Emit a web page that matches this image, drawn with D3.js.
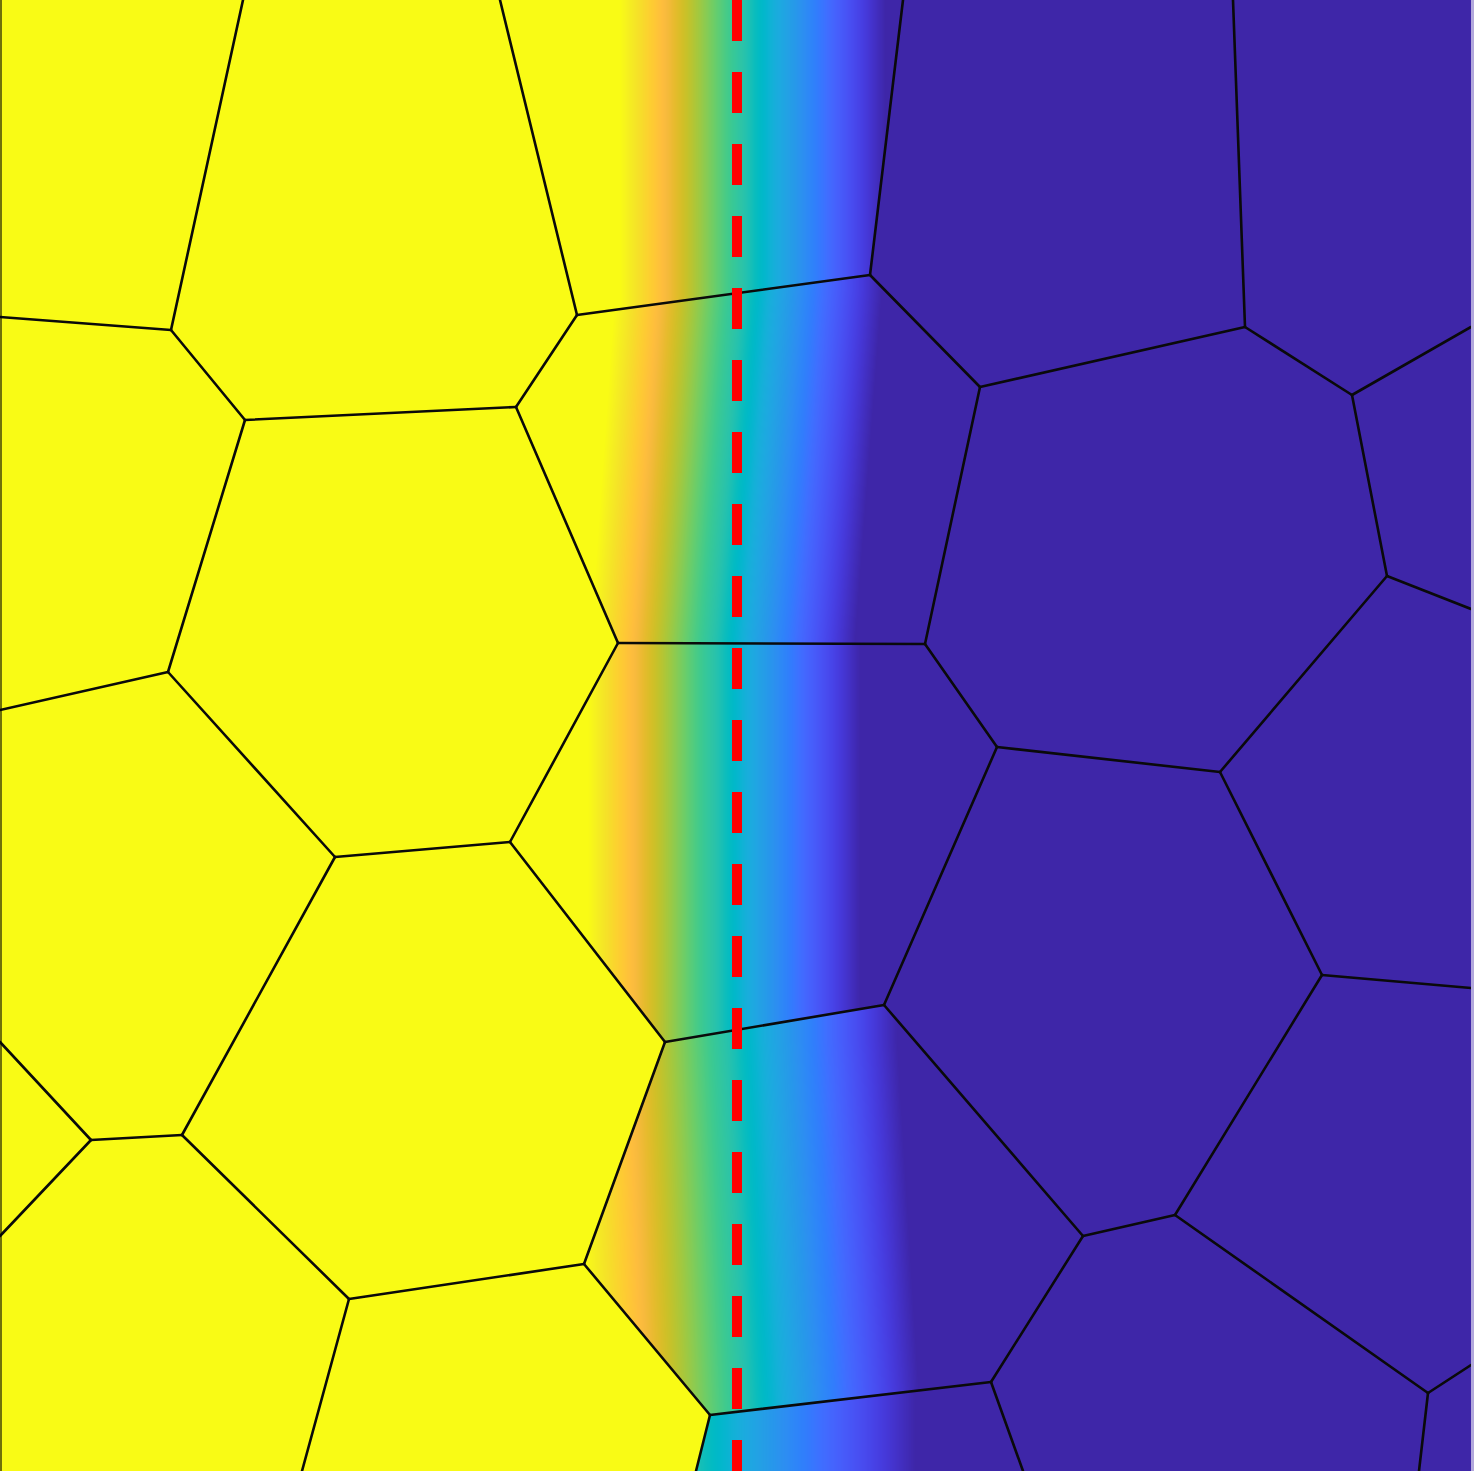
<!DOCTYPE html>
<html><head><meta charset="utf-8">
<script src="https://cdn.jsdelivr.net/npm/d3@7"></script>
<style>
html,body{margin:0;padding:0;background:#fff;}
#wrap{position:relative;width:1474px;height:1480px;overflow:hidden;}
#wrap canvas,#wrap svg{position:absolute;left:0;top:0;}
</style>
</head><body><div id="wrap"></div>
<script>
// ---------- data (domain units, y downward) ----------
const domainX = [0, 1471];
const domainY = [0, 1471];

// mesh vertices [x, y]
const nodes = [
  [243,0],[500,0],[903,0],[1233,0],          // 0-3 top
  [0,317],[171,330],[245,420],[516,407],     // 4-7
  [577,315],[870,275],[980,387],[1245,327],  // 8-11
  [1352,395],[1471,327],[1387,576],[1471,609],// 12-15
  [618,643],[925,644],[168,672],[0,710],     // 16-19
  [335,857],[510,842],[997,747],[1220,772],  // 20-23
  [884,1005],[665,1042],[1322,975],[1471,988],// 24-27
  [0,1042],[91,1140],[182,1135],[0,1236],    // 28-31
  [349,1299],[584,1264],[710,1415],[991,1382],// 32-35
  [1083,1236],[1175,1215],[1428,1393],[1471,1365],// 36-39
  [302,1471],[696,1471],[1023,1471],[1419,1471]   // 40-43
];

// mesh edges (pairs of vertex indices)
const edges = [
  [0,5],[1,8],[2,9],[3,11],[4,5],[5,6],[6,7],[7,8],[8,9],[9,10],[10,11],
  [11,12],[12,13],[12,14],[14,15],[14,23],[10,17],[17,16],[16,7],[6,18],
  [18,19],[18,20],[16,21],[21,20],[17,22],[22,23],[22,24],[23,26],[26,27],
  [26,37],[24,25],[21,25],[20,30],[28,29],[29,30],[29,31],[30,32],[32,33],
  [33,25],[33,34],[34,41],[34,35],[24,36],[36,37],[36,35],[35,42],[37,38],
  [38,39],[38,43],[32,40]
];

// cells crossed by the transition band: vertex ids + field ramp
// (x where field = 1 and x where field = 0, at a top y and a bottom y)
const bandCellVerts = [
  [1,8,9,2],
  [8,7,16,17,10,9],
  [16,21,25,24,22,17],
  [25,33,34,35,36,24],
  [34,41,42,35]
];
const rampTopY    = [0,   290, 643, 1040, 1415];
const rampTopOne  = [620, 615, 588, 577,  490];
const rampTopZero = [885, 882, 860, 897,  915];
const rampBotY    = [315, 643, 1040, 1415, 1471];
const rampBotOne  = [620, 590, 588, 590,  490];
const rampBotZero = [885, 855, 860, 920,  915];

const leftValue = 1, rightValue = 0, sideSplitX = 740;
const interfaceX = [737];

// parula colormap (64 entries)
const parula = [
[0.2422,0.1504,0.6603],[0.2504,0.1650,0.7076],[0.2578,0.1818,0.7511],[0.2647,0.1978,0.7952],
[0.2706,0.2147,0.8364],[0.2751,0.2342,0.8710],[0.2783,0.2559,0.8991],[0.2803,0.2782,0.9221],
[0.2813,0.3006,0.9414],[0.2810,0.3228,0.9579],[0.2795,0.3447,0.9717],[0.2760,0.3667,0.9829],
[0.2699,0.3892,0.9906],[0.2602,0.4123,0.9952],[0.2440,0.4358,0.9988],[0.2206,0.4603,0.9973],
[0.1963,0.4847,0.9892],[0.1834,0.5074,0.9798],[0.1786,0.5289,0.9682],[0.1764,0.5499,0.9520],
[0.1687,0.5703,0.9359],[0.1540,0.5902,0.9218],[0.1460,0.6091,0.9079],[0.1380,0.6276,0.8973],
[0.1248,0.6459,0.8883],[0.1113,0.6635,0.8763],[0.0952,0.6798,0.8598],[0.0689,0.6948,0.8394],
[0.0297,0.7082,0.8163],[0.0036,0.7203,0.7917],[0.0067,0.7312,0.7660],[0.0433,0.7411,0.7394],
[0.0964,0.7500,0.7120],[0.1408,0.7584,0.6842],[0.1717,0.7670,0.6554],[0.1938,0.7758,0.6251],
[0.2161,0.7843,0.5923],[0.2470,0.7918,0.5567],[0.2906,0.7973,0.5188],[0.3406,0.8008,0.4789],
[0.3909,0.8029,0.4354],[0.4456,0.8024,0.3909],[0.5044,0.7993,0.3480],[0.5616,0.7942,0.3045],
[0.6174,0.7876,0.2612],[0.6720,0.7793,0.2227],[0.7242,0.7698,0.1910],[0.7738,0.7598,0.1646],
[0.8203,0.7498,0.1535],[0.8634,0.7406,0.1596],[0.9035,0.7330,0.1774],[0.9393,0.7288,0.2100],
[0.9728,0.7298,0.2394],[0.9956,0.7434,0.2371],[0.9970,0.7659,0.2199],[0.9952,0.7893,0.2028],
[0.9892,0.8136,0.1885],[0.9786,0.8386,0.1766],[0.9676,0.8639,0.1643],[0.9610,0.8890,0.1537],
[0.9597,0.9135,0.1423],[0.9628,0.9373,0.1265],[0.9691,0.9606,0.1064],[0.9769,0.9839,0.0805]
];

// ---------- drawing ----------
const W = 1474, H = 1480;
const x = d3.scaleLinear().domain(domainX).range([0, 1471]);
const y = d3.scaleLinear().domain(domainY).range([0, 1471]);
const color = d3.scaleLinear()
  .domain(parula.map((_, i) => i / (parula.length - 1)))
  .range(parula.map(c => d3.rgb(c[0]*255, c[1]*255, c[2]*255)))
  .interpolate(d3.interpolateRgb).clamp(true);

const wrap = d3.select("#wrap");
const canvas = wrap.append("canvas").attr("width", W).attr("height", H).node();
const ctx = canvas.getContext("2d");
ctx.fillStyle = "#fff"; ctx.fillRect(0, 0, W, H);

const pw = Math.round(x(domainX[1]) - x(domainX[0]));
const ph = Math.round(y(domainY[1]) - y(domainY[0]));
const img = ctx.createImageData(pw, ph);

const LUT = d3.range(1025).map(i => d3.rgb(color(i / 1024)));
const cells = bandCellVerts.map((vs, i) => {
  const poly = vs.map(k => [x(nodes[k][0]), y(nodes[k][1])]);
  const xs = poly.map(p => p[0]), ys = poly.map(p => p[1]);
  return { poly, x0: Math.floor(d3.min(xs)), x1: Math.ceil(d3.max(xs)),
           y0: Math.floor(d3.min(ys)), y1: Math.ceil(d3.max(ys)), i };
});
const vals = new Float32Array(pw * ph);
for (let py = 0; py < ph; py++) {
  for (let px = 0; px < pw; px++) {
    vals[py*pw+px] = x.invert(px + 0.5) < sideSplitX ? leftValue : rightValue;
  }
}
cells.forEach(c => {
  const i = c.i;
  for (let py = Math.max(0, c.y0); py < Math.min(ph, c.y1); py++) {
    const yd = y.invert(py + 0.5);
    const t = Math.max(0, Math.min(1, (yd - rampTopY[i]) / (rampBotY[i] - rampTopY[i])));
    const one = rampTopOne[i] + t * (rampBotOne[i] - rampTopOne[i]);
    const zero = rampTopZero[i] + t * (rampBotZero[i] - rampTopZero[i]);
    for (let px = Math.max(0, c.x0); px < Math.min(pw, c.x1); px++) {
      if (d3.polygonContains(c.poly, [px + 0.5, py + 0.5])) {
        const xd = x.invert(px + 0.5);
        vals[py*pw+px] = Math.max(0, Math.min(1, (zero - xd) / (zero - one)));
      }
    }
  }
});
for (let k = 0; k < pw * ph; k++) {
  const c = LUT[Math.round(vals[k] * 1024)];
  img.data[4*k] = c.r; img.data[4*k+1] = c.g; img.data[4*k+2] = c.b; img.data[4*k+3] = 255;
}
ctx.putImageData(img, Math.round(x(domainX[0])), Math.round(y(domainY[0])));

const svg = wrap.append("svg").attr("width", W).attr("height", H);
svg.append("defs").append("clipPath").attr("id", "plotclip")
  .append("rect").attr("x", x(domainX[0])).attr("y", y(domainY[0]))
  .attr("width", pw).attr("height", ph);

// faint right border strip
svg.append("rect").attr("x", x(domainX[1])).attr("y", y(domainY[0]))
  .attr("width", W - x(domainX[1])).attr("height", ph)
  .attr("fill", color(rightValue)).attr("opacity", 0.4);

const g = svg.append("g").attr("clip-path", "url(#plotclip)");
g.selectAll("line.edge").data(edges).join("line").attr("class", "edge")
  .attr("x1", d => x(nodes[d[0]][0])).attr("y1", d => y(nodes[d[0]][1]))
  .attr("x2", d => x(nodes[d[1]][0])).attr("y2", d => y(nodes[d[1]][1]))
  .attr("stroke", "#0a0a0a").attr("stroke-width", 2.6).attr("stroke-linecap", "round");

// left boundary
g.append("line").attr("x1", x(domainX[0]) + 1).attr("x2", x(domainX[0]) + 1)
  .attr("y1", y(domainY[0])).attr("y2", y(domainY[1]))
  .attr("stroke", "#000").attr("stroke-width", 2).attr("opacity", 0.55);

g.selectAll("line.iface").data(interfaceX).join("line").attr("class", "iface")
  .attr("x1", d => x(d)).attr("x2", d => x(d))
  .attr("y1", y(domainY[0])).attr("y2", y(domainY[1]) + 2)
  .attr("stroke", "#ff0000").attr("stroke-width", 10)
  .attr("stroke-dasharray", "41 31");
</script>
</body></html>
